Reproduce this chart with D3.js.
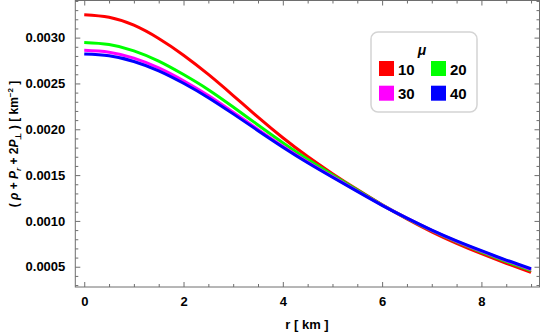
<!DOCTYPE html>
<html lang="en">
<head>
<meta charset="UTF-8">
<title>rho + Pr + 2Pt</title>
<script src="https://d3js.org/d3.v7.min.js"></script>
<style>
	body{ margin:0; background:#fff; }
	svg text{ font-family:"Liberation Sans", Arial, sans-serif; font-weight:bold; fill:#000; }
	.frame path, .frame line{ stroke:#6e6e6e; }
</style>
</head>
<body>
<div id="chart"></div>
<script>
// radius in km
const rVals=[0,0.5,1,1.5,2,2.5,3,3.5,4,4.5,5,5.5,6,6.5,7,7.5,8,8.5,9];
// mu values
const muList=[10,20,30,40];
const mu10=[0.003250,0.003222,0.003135,0.002990,0.002808,0.002598,0.002368,0.002132,0.001907,0.001702,0.001516,0.001342,0.001177,0.001022,0.000881,0.000755,0.000642,0.000537,0.000438];
const mu20=[0.002946,0.002924,0.002856,0.002744,0.002597,0.002432,0.002243,0.002047,0.001854,0.001672,0.001502,0.001336,0.001175,0.001028,0.000893,0.000771,0.000661,0.000556,0.000458];
const mu30=[0.002862,0.002841,0.002776,0.002670,0.002530,0.002368,0.002186,0.001999,0.001815,0.001643,0.001483,0.001326,0.001172,0.001030,0.000897,0.000778,0.000670,0.000567,0.000470];
const mu40=[0.002822,0.002802,0.002740,0.002638,0.002502,0.002345,0.002168,0.001985,0.001805,0.001635,0.001477,0.001322,0.001170,0.001030,0.000900,0.000782,0.000675,0.000573,0.000478];
const colors=["#ff0000","#00ff00","#ff00ff","#0000ff"];
const xMajor=[0,2,4,6,8];
const yMajor=[0.0005,0.0010,0.0015,0.0020,0.0025,0.0030];

const width=540, height=334;
const pLeft=75.3, pRight=539.5, pTop=0.5, pBottom=287;

const svg=d3.select('#chart').append('svg')
	.attr('width',width).attr('height',height);

const x=d3.scaleLinear().domain([-0.18,9.17]).range([pLeft,pRight]);
const y=d3.scaleLinear().domain([0.000279,0.003405]).range([pBottom,pTop]);

const xMinor=d3.range(0,9.01,0.5).filter(v=>xMajor.indexOf(v)<0);
const yMinor=d3.range(3,35).map(v=>v/10000).filter(v=>!yMajor.some(m=>Math.abs(m-v)<1e-9));

// frame with inside ticks (Mathematica style)
function frameAxis(axisFn,scale,vals,size,labels,transform){
	const a=axisFn(scale).tickValues(vals).tickSize(-size).tickPadding(size+5);
	if(labels) a.tickFormat(labels); else a.tickFormat('');
	const g=svg.append('g').attr('class','frame').attr('transform',transform).call(a);
	g.select('.domain').remove();
	g.selectAll('text').style('font-size','13px').style('font-family','"Liberation Sans", Arial, sans-serif');
	return g;
}
frameAxis(d3.axisBottom,x,xMajor,5,d3.format('d'),`translate(0,${pBottom})`);
frameAxis(d3.axisBottom,x,xMinor,3,null,`translate(0,${pBottom})`);
frameAxis(d3.axisTop,x,xMajor,5,null,`translate(0,${pTop})`);
frameAxis(d3.axisTop,x,xMinor,3,null,`translate(0,${pTop})`);
frameAxis(d3.axisLeft,y,yMajor,5,d3.format('.4f'),`translate(${pLeft},0)`);
frameAxis(d3.axisLeft,y,yMinor,3,null,`translate(${pLeft},0)`);
frameAxis(d3.axisRight,y,yMajor,5,null,`translate(${pRight},0)`);
frameAxis(d3.axisRight,y,yMinor,3,null,`translate(${pRight},0)`);

svg.append('rect')
	.attr('x',pLeft).attr('y',pTop)
	.attr('width',pRight-pLeft).attr('height',pBottom-pTop)
	.attr('fill','none').attr('stroke','#6e6e6e').attr('stroke-width',1);

// curves
const series=[mu10,mu20,mu30,mu40];
const line=d3.line()
	.x((d,i)=>x(rVals[i]))
	.y(d=>y(d))
	.curve(d3.curveNatural);
svg.append('g').selectAll('path').data(series).enter().append('path')
	.attr('d',line)
	.attr('fill','none')
	.attr('stroke',(d,i)=>colors[i])
	.attr('stroke-width',3);

// axis labels
svg.append('text')
	.attr('x',307).attr('y',329)
	.attr('text-anchor','middle')
	.style('font-size','13px')
	.text('r [ km ]');

const yl=svg.append('text')
	.attr('transform','translate(18,144) rotate(-90)')
	.attr('text-anchor','middle')
	.style('font-size','12px');
yl.append('tspan').text('( ');
yl.append('tspan').style('font-style','italic').text('ρ');
yl.append('tspan').text(' + ');
yl.append('tspan').style('font-style','italic').text('P');
yl.append('tspan').style('font-style','italic').style('font-size','8px').attr('dy',3).text('r');
yl.append('tspan').attr('dy',-3).text(' + 2');
yl.append('tspan').style('font-style','italic').text('P');
yl.append('tspan').style('font-size','8px').attr('dy',3).text('⊥');
yl.append('tspan').attr('dy',-3).text(' ) [ km');
yl.append('tspan').style('font-size','8px').attr('dy',-5).text('−2');
yl.append('tspan').attr('dy',5).text(' ]');

// legend
const lg=svg.append('g');
lg.append('rect')
	.attr('x',371).attr('y',32).attr('width',106).attr('height',80)
	.attr('rx',7).attr('fill','#fff').attr('stroke','#d4d4d4').attr('stroke-width',1.5);
lg.append('text')
	.attr('x',422).attr('y',55)
	.attr('text-anchor','middle')
	.style('font-size','14px').style('font-style','italic')
	.text('μ');
const items=lg.selectAll('g.item').data(muList).enter().append('g')
	.attr('transform',(d,i)=>`translate(${379+(i%2)*52},${61+Math.floor(i/2)*24.7})`);
items.append('rect')
	.attr('width',15).attr('height',15)
	.attr('fill',(d,i)=>colors[i]);
items.append('text')
	.attr('x',19).attr('y',13.5)
	.style('font-size','15px')
	.text(d=>d);
</script>
</body>
</html>
